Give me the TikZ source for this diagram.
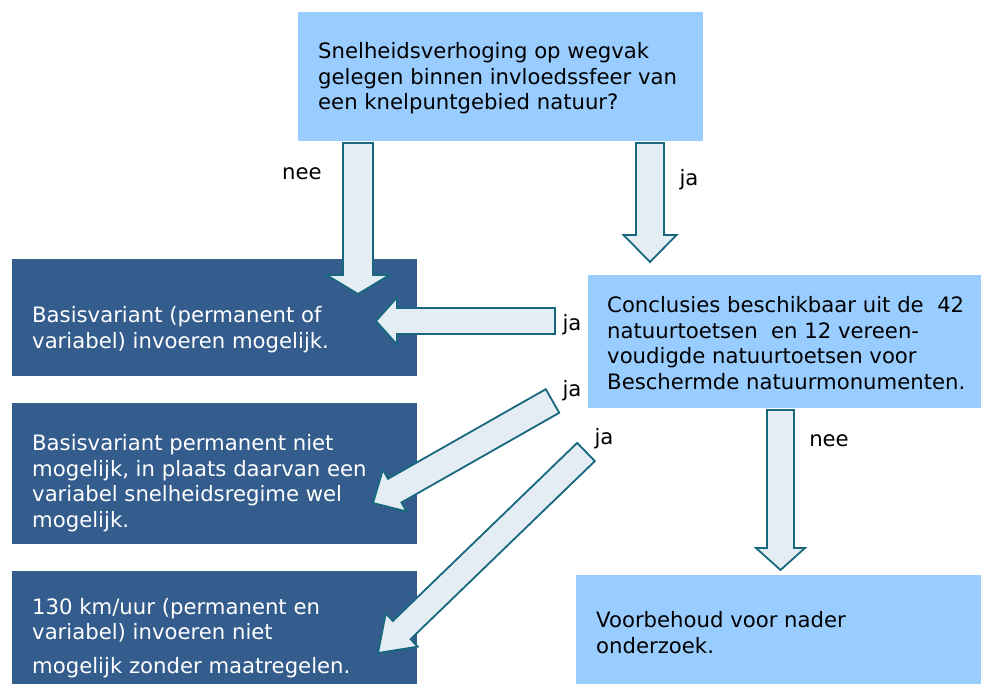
\documentclass[tikz,border=0pt]{standalone}
\usepackage{fontspec}
\setmainfont{DejaVu Sans}
\usetikzlibrary{calc}
\definecolor{lightbox}{HTML}{99CCFF}
\definecolor{darkbox}{HTML}{345D8D}
\definecolor{arrowfill}{HTML}{E4EDF3}
\definecolor{arrowline}{HTML}{17687F}
\tikzset{
  lbox/.style={fill=lightbox, draw=none, anchor=north west, inner sep=0pt},
  dbox/.style={fill=darkbox, draw=none, anchor=north west, inner sep=0pt},
  btxt/.style={anchor=base west, align=left, inner sep=0pt, font=\fontsize{21.2}{25.5}\selectfont},
  wtxt/.style={btxt, text=white},
  lab/.style={inner sep=0pt, font=\fontsize{21.2}{25.5}\selectfont},
  blockarrow/.style={fill=arrowfill, draw=arrowline, line width=1.8pt, line join=miter}
}
% #1 start, #2 end, #3 shaft half width, #4 head half width, #5 head length
\newcommand{\blockarr}[5]{%
  \draw[blockarrow]
    ($(#1)!#3!90:(#2)$) --
    ($($(#2)!#5!(#1)$)!#3!90:(#2)$) --
    ($($(#2)!#5!(#1)$)!#4!90:(#2)$) --
    (#2) --
    ($($(#2)!#5!(#1)$)!#4!-90:(#2)$) --
    ($($(#2)!#5!(#1)$)!#3!-90:(#2)$) --
    ($(#1)!#3!-90:(#2)$) -- cycle;}
\begin{document}
\begin{tikzpicture}[x=1pt,y=-1pt]
\useasboundingbox (0,0) rectangle (981,684);
% boxes
\node[lbox, minimum width=405pt, minimum height=129pt] (top) at (298,12) {};
\node[dbox, minimum width=405pt, minimum height=117pt] (b2) at (12,259) {};
\node[dbox, minimum width=405pt, minimum height=141pt] (b3) at (12,403) {};
\node[dbox, minimum width=405pt, minimum height=113pt] (b4) at (12,571) {};
\node[lbox, minimum width=393pt, minimum height=133pt] (conc) at (588,275) {};
\node[lbox, minimum width=405pt, minimum height=109pt] (voor) at (576,575) {};
% texts (base anchor = baseline of last line)
\node[btxt] (ttop) at (318,110) {Snelheidsverhoging op wegvak\\gelegen binnen invloedssfeer van\\een knelpuntgebied natuur?};
\node[wtxt] (tb2) at (32,348) {Basisvariant (permanent of\\variabel) invoeren mogelijk.};
\node[wtxt] (tb3) at (32,527) {Basisvariant permanent niet\\mogelijk, in plaats daarvan een\\variabel snelheidsregime wel\\mogelijk.};
\node[wtxt] (tb4) at (32,673) {130 km/uur (permanent en\\variabel) invoeren niet\\[8pt]mogelijk zonder maatregelen.};
\node[btxt] (tconc) at (607,389) {Conclusies beschikbaar uit de\ \ 42\\natuurtoetsen\ \ en 12 vereen-\\voudigde natuurtoetsen voor\\Beschermde natuurmonumenten.};
\node[btxt] (tvoor) at (596,653) {Voorbehoud voor nader\\onderzoek.};
% arrow end points
\coordinate (a1s) at (358,143);  \coordinate (a1e) at (358,294);
\coordinate (a2s) at (650,143);  \coordinate (a2e) at (650,262);
\coordinate (a3s) at (555,321);  \coordinate (a3e) at (376,321);
\coordinate (a4s) at (552.5,401); \coordinate (a4e) at (373,503);
\coordinate (a5s) at (586,452);  \coordinate (a5e) at (378,653);
\coordinate (a6s) at (780.5,410); \coordinate (a6e) at (780.5,570);
\blockarr{a1s}{a1e}{15pt}{31.5pt}{19pt}
\blockarr{a2s}{a2e}{14pt}{26.5pt}{27pt}
\blockarr{a3s}{a3e}{13pt}{23.5pt}{21pt}
\blockarr{a4s}{a4e}{13.6pt}{24pt}{25pt}
\blockarr{a5s}{a5e}{12.7pt}{23pt}{33pt}
\blockarr{a6s}{a6e}{13.5pt}{24.5pt}{22pt}
% labels
\node[lab] (l1) at (302,174) {nee};
\node[lab] (l2) at (689,180) {ja};
\node[lab] (l3) at (572,325) {ja};
\node[lab] (l4) at (572,391) {ja};
\node[lab] (l5) at (604,439) {ja};
\node[lab] (l6) at (829,441) {nee};
\end{tikzpicture}
\end{document}
